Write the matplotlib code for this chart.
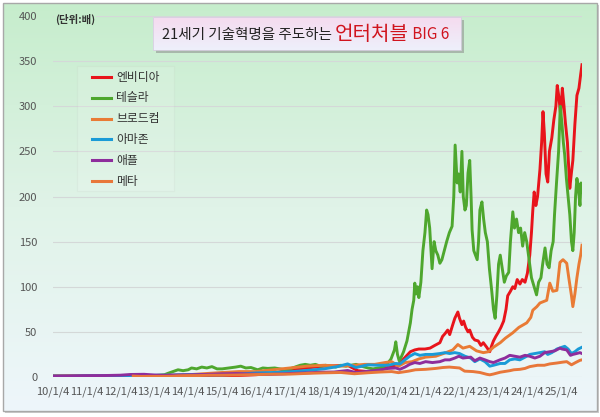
import matplotlib.pyplot as plt
import numpy as np
from matplotlib.colors import LinearSegmentedColormap
from matplotlib.patches import Rectangle

plt.rcParams['font.family'] = ['Noto Sans CJK KR', 'DejaVu Sans']

# ---- data (ratio vs. start) ----
names = ["엔비디아", "테슬라", "브로드컴", "아마존", "애플", "메타"]
colors = ["#e8141b", "#4ea72e", "#e97b35", "#1a9bd7", "#8e2d9c", "#e8773a"]

nvda_t = [2010.0, 2011.0, 2011.3, 2012.0, 2013.0, 2014.0, 2015.0, 2015.5, 2016.0, 2016.5,
          2017.0, 2017.5, 2018.0, 2018.7, 2018.9, 2019.0, 2019.3, 2019.6, 2019.9, 2020.2,
          2020.4, 2020.55, 2020.68, 2020.8, 2020.98, 2021.13, 2021.27, 2021.42, 2021.5, 2021.57,
          2021.65, 2021.71, 2021.8, 2021.86, 2021.95, 2022.0, 2022.07, 2022.12, 2022.18, 2022.25,
          2022.3, 2022.38, 2022.45, 2022.55, 2022.63, 2022.7, 2022.8, 2022.89, 2022.95, 2023.0,
          2023.07, 2023.15, 2023.22, 2023.3, 2023.37, 2023.42, 2023.5, 2023.57, 2023.63, 2023.7,
          2023.78, 2023.85, 2023.93, 2024.0, 2024.07, 2024.12, 2024.16, 2024.2, 2024.25, 2024.3,
          2024.37, 2024.42, 2024.46, 2024.5, 2024.55, 2024.6, 2024.65, 2024.72, 2024.78, 2024.84,
          2024.88, 2024.93, 2024.98, 2025.03, 2025.08, 2025.12, 2025.18, 2025.25, 2025.3, 2025.34,
          2025.4, 2025.46, 2025.52, 2025.57, 2025.61]
nvda_v = [1.0, 1.2, 1.5, 1.0, 1.0, 1.3, 1.5, 1.7, 2.5, 4,
          8, 10, 12, 13, 9, 7, 6, 7, 11, 14,
          22, 28, 30, 31, 31, 32, 35, 38, 45, 48,
          52, 47, 58, 65, 72, 65, 58, 62, 55, 50,
          52, 44, 41, 40, 35, 38, 33, 28, 35, 40,
          45, 50, 55, 62, 75, 90, 95, 100, 98, 108,
          103, 108, 105, 115, 135, 160, 185, 205, 190, 200,
          230, 260, 294, 270, 225, 216, 250, 265, 285, 300,
          323, 310, 290, 320, 300, 282, 260, 209, 227, 240,
          280, 312, 320, 335, 346]

tsla_t = [2010.0, 2010.5, 2011.0, 2011.5, 2012.0, 2012.5, 2013.0, 2013.3, 2013.4, 2013.55,
          2013.7, 2013.85, 2014.0, 2014.1, 2014.25, 2014.4, 2014.55, 2014.7, 2014.85, 2015.0,
          2015.2, 2015.4, 2015.55, 2015.7, 2015.85, 2016.05, 2016.2, 2016.35, 2016.55, 2016.7,
          2016.85, 2017.0, 2017.15, 2017.3, 2017.45, 2017.6, 2017.75, 2017.9, 2018.05, 2018.2,
          2018.35, 2018.5, 2018.65, 2018.8, 2018.95, 2019.1, 2019.3, 2019.45, 2019.6, 2019.75,
          2019.9, 2019.98, 2020.08, 2020.12, 2020.17, 2020.22, 2020.28, 2020.35, 2020.45, 2020.55,
          2020.6, 2020.65, 2020.68, 2020.72, 2020.76, 2020.8, 2020.86, 2020.92, 2020.98, 2021.03,
          2021.07, 2021.12, 2021.19, 2021.25, 2021.3, 2021.36, 2021.42, 2021.48, 2021.55, 2021.62,
          2021.7, 2021.78, 2021.83, 2021.87, 2021.9, 2021.93, 2021.97, 2022.02, 2022.07, 2022.11,
          2022.16, 2022.2, 2022.25, 2022.3, 2022.34, 2022.37, 2022.42, 2022.47, 2022.52, 2022.56,
          2022.6, 2022.66, 2022.71, 2022.76, 2022.82, 2022.88, 2022.95, 2023.0, 2023.05, 2023.1,
          2023.15, 2023.2, 2023.26, 2023.32, 2023.38, 2023.45, 2023.5, 2023.57, 2023.62, 2023.68,
          2023.74, 2023.8, 2023.86, 2023.92, 2023.98, 2024.05, 2024.12, 2024.2, 2024.27, 2024.33,
          2024.4, 2024.45, 2024.52, 2024.58, 2024.64, 2024.7, 2024.76, 2024.8, 2024.86, 2024.92,
          2024.97, 2025.02, 2025.06, 2025.1, 2025.15, 2025.2, 2025.25, 2025.3, 2025.34, 2025.38,
          2025.42, 2025.46, 2025.5, 2025.55, 2025.58, 2025.61]
tsla_v = [1.0, 1.0, 1.2, 1.3, 1.3, 1.5, 1.5, 2.5, 4, 6,
          8, 7, 8, 10, 9, 11, 10, 11.5, 9, 9,
          10, 11, 12, 10, 10.5, 8, 10, 9.5, 10, 9,
          8, 9, 11, 13, 14, 13, 14, 12, 13, 12,
          11, 13, 12, 13, 14, 12, 10, 9, 10, 11,
          16, 20, 30, 39, 25, 18, 22, 28, 40, 60,
          75, 85, 104, 92, 100, 88, 105, 140, 160, 185,
          180, 165, 120, 150, 140, 135, 126, 130, 140, 150,
          160, 167, 200, 257, 235, 215, 225, 205, 250, 200,
          185, 190, 226, 240, 200, 163, 140, 135, 130, 150,
          185, 194, 175, 160, 150, 120, 95, 75, 65, 90,
          125, 135, 120, 105, 112, 116, 150, 183, 165, 175,
          160, 165, 145, 160, 150, 130, 110, 100, 91, 105,
          110, 125, 143, 125, 121, 140, 150, 180, 216, 250,
          300, 280, 260, 246, 220, 200, 180, 150, 140, 160,
          200, 220, 210, 190, 215, 205]

avgo_t = [2010.0, 2011.0, 2012.0, 2013.0, 2014.0, 2015.0, 2015.5, 2016.0, 2016.5, 2017.0,
          2017.5, 2018.0, 2018.5, 2018.9, 2019.2, 2019.5, 2019.8, 2020.0, 2020.2, 2020.4,
          2020.6, 2020.8, 2021.0, 2021.3, 2021.6, 2021.8, 2021.95, 2022.1, 2022.3, 2022.5,
          2022.7, 2022.85, 2023.0, 2023.2, 2023.35, 2023.57, 2023.75, 2023.98, 2024.1, 2024.16,
          2024.28, 2024.37, 2024.57, 2024.66, 2024.75, 2024.87, 2024.96, 2025.05, 2025.16, 2025.22,
          2025.3, 2025.34, 2025.4, 2025.46, 2025.52, 2025.57, 2025.61]
avgo_v = [1.0, 1.2, 1.4, 1.5, 2.5, 5, 6, 6, 8, 10,
          12, 13, 12, 13, 14, 14, 16, 17, 12, 16,
          17, 20, 22, 23, 27, 30, 36, 32, 34, 29,
          27, 28, 33, 38, 43, 49, 55, 60, 66, 74,
          78, 82, 85, 104, 95, 96, 127, 130, 126, 110,
          90, 78, 92, 110, 125, 135, 146]

amzn_t = [2010.0, 2010.5, 2011.0, 2011.5, 2012.0, 2012.5, 2013.0, 2013.5, 2014.0, 2014.5,
          2015.0, 2015.5, 2016.0, 2016.5, 2017.0, 2017.5, 2018.0, 2018.4, 2018.7, 2018.95,
          2019.3, 2019.6, 2019.9, 2020.12, 2020.24, 2020.39, 2020.53, 2020.68, 2020.83, 2021.0,
          2021.2, 2021.42, 2021.57, 2021.71, 2021.86, 2022.0, 2022.16, 2022.33, 2022.45, 2022.6,
          2022.75, 2022.89, 2023.0, 2023.2, 2023.34, 2023.48, 2023.63, 2023.78, 2023.93, 2024.07,
          2024.22, 2024.37, 2024.51, 2024.6, 2024.72, 2024.87, 2025.02, 2025.1, 2025.2, 2025.3,
          2025.4, 2025.5, 2025.61]
amzn_v = [1.0, 0.9, 1.3, 1.5, 1.3, 1.7, 1.9, 2.1, 2.7, 2.3,
          2.2, 3.2, 4.5, 5, 5.8, 7.3, 9, 11.5, 14.5, 10.5,
          13.5, 13, 13, 15, 14.5, 19, 23, 26, 24, 25,
          25, 26, 27, 26, 27, 26, 23, 21, 17, 20,
          17, 12, 13, 15, 15, 19, 20, 19, 22, 25,
          26, 27, 28, 25, 27, 31, 33, 34, 31, 26,
          28, 31, 33]

aapl_t = [2010.0, 2010.5, 2011.0, 2011.5, 2012.0, 2012.3, 2012.7, 2013.0, 2013.3, 2013.7,
          2014.0, 2014.5, 2015.0, 2015.4, 2015.7, 2016.0, 2016.4, 2016.8, 2017.0, 2017.5,
          2017.9, 2018.3, 2018.7, 2018.95, 2019.3, 2019.6, 2019.9, 2020.12, 2020.24, 2020.39,
          2020.53, 2020.68, 2020.83, 2021.0, 2021.2, 2021.42, 2021.57, 2021.71, 2021.86, 2021.98,
          2022.1, 2022.33, 2022.45, 2022.6, 2022.75, 2022.89, 2023.0, 2023.19, 2023.34, 2023.48,
          2023.63, 2023.78, 2023.93, 2024.07, 2024.22, 2024.37, 2024.51, 2024.66, 2024.81, 2024.96,
          2025.02, 2025.16, 2025.27, 2025.34, 2025.45, 2025.55, 2025.61]
aapl_v = [1.0, 1.2, 1.5, 1.6, 2.0, 2.8, 3.0, 2.2, 1.9, 2.2,
          2.4, 2.8, 3.5, 3.8, 3.4, 3.2, 2.9, 3.4, 3.9, 4.6,
          5.3, 5.5, 7.2, 4.9, 6.3, 7.5, 9.5, 10, 8.5, 11,
          14, 16, 15, 17, 16, 17, 19, 19, 21, 23,
          21, 22, 18, 21, 19, 17, 16, 19, 21, 24,
          23, 22, 24, 23, 21, 23, 27, 28, 29, 32,
          31, 30, 24, 25, 26, 27, 26]

meta_t = [2012.38, 2012.6, 2012.9, 2013.2, 2013.5, 2013.7, 2014.0, 2014.3, 2014.6, 2015.0,
          2015.5, 2016.0, 2016.5, 2017.0, 2017.5, 2018.0, 2018.5, 2018.9, 2019.3, 2019.66,
          2020.0, 2020.2, 2020.5, 2020.7, 2021.0, 2021.3, 2021.5, 2021.7, 2021.85, 2022.0,
          2022.15, 2022.4, 2022.6, 2022.8, 2022.89, 2023.0, 2023.2, 2023.48, 2023.6, 2023.78,
          2023.93, 2024.07, 2024.3, 2024.5, 2024.66, 2024.87, 2025.05, 2025.16, 2025.3, 2025.42,
          2025.55, 2025.61]
meta_v = [1.0, 0.6, 0.7, 0.7, 0.8, 1.3, 1.6, 1.6, 2.0, 2.0,
          2.3, 2.7, 3.1, 3.2, 4.0, 4.6, 5.0, 3.6, 4.7, 5.5,
          6, 4.8, 6.5, 8, 8.5, 9.5, 10.5, 11, 10.5, 10,
          6.5, 6, 5, 3, 2.4, 3.3, 5.3, 7, 8, 8.5,
          9.5, 11.5, 13, 13, 14.5, 15.5, 16.5, 17, 13.5, 16,
          18.5, 19]

series_t = [nvda_t, tsla_t, avgo_t, amzn_t, aapl_t, meta_t]
series_v = [nvda_v, tsla_v, avgo_v, amzn_v, aapl_v, meta_v]

year_ticks = list(range(2010, 2026))
year_labels = [f"{y % 100}/1/4" for y in year_ticks]

# ---- figure ----
W, H = 600, 417
fig = plt.figure(figsize=(W / 100, H / 100), dpi=100)
fig.patch.set_facecolor("white")


def pixel_axes(z):
    a = fig.add_axes([0, 0, 1, 1], zorder=z)
    a.patch.set_alpha(0)
    a.axis("off")
    return a


bg = pixel_axes(0)
# outer frame with shadow and green-to-blue gradient
bg.add_patch(Rectangle((5, 5), 594, 408, facecolor="#9a9a9a", alpha=0.5, edgecolor="none"))
grad = LinearSegmentedColormap.from_list("bgrad", ["#c6edcc", "#e0f3e8", "#eef6fb"])
bg.imshow(np.linspace(0, 1, 256).reshape(-1, 1), cmap=grad, aspect="auto",
          extent=[3, 597, 411, 3], zorder=1)
bg.add_patch(Rectangle((3, 3), 594, 408, facecolor="none", edgecolor="#a8a8a8", lw=1, zorder=2))
bg.set_xlim(0, W)
bg.set_ylim(H, 0)

# main chart
ax = fig.add_axes([52.5 / W, (H - 377) / H, 529.5 / W, 361 / H], zorder=1)
ax.patch.set_alpha(0)
for t, v, col in zip(series_t, series_v, colors):
    ax.plot(t, v, color=col, lw=2.1, solid_joinstyle="round")

ax.set_xlim(2010.0, 2025.61)
ax.set_ylim(0, 400)
ax.set_yticks(range(0, 401, 50))
ax.set_xticks(year_ticks)
ax.set_xticklabels(year_labels)
ax.tick_params(length=0, labelsize=8, colors="#555555")
ax.tick_params(axis="y", pad=11)
ax.tick_params(axis="x", pad=7)
ax.grid(axis="y", color="#d4d8d8", lw=0.8)
ax.set_axisbelow(True)
for s in ax.spines.values():
    s.set_visible(False)

# overlay: title box, unit label, legend
ov = pixel_axes(3)
ov.add_patch(Rectangle((156, 20), 308, 33, facecolor="#8c8c8c", alpha=0.55, edgecolor="none", zorder=3))
tgrad = LinearSegmentedColormap.from_list("tgrad", ["#f5dbef", "#eef0fb"])
ov.imshow(np.linspace(0, 1, 64).reshape(-1, 1), cmap=tgrad, aspect="auto",
          extent=[153, 461, 50, 17], zorder=4)
ov.add_patch(Rectangle((153, 17), 308, 33, facecolor="none", edgecolor="#d6cfe0", lw=0.6, zorder=5))
ov.set_xlim(0, W)
ov.set_ylim(H, 0)

renderer = fig.canvas.get_renderer()
parts = [("21세기 기술혁명을 주도하는 ", 10.5, "#222222"),
         ("언터처블", 14.5, "#d0141e"),
         (" BIG 6", 11, "#d0141e")]
x = 162
for txt, size, col in parts:
    t = ov.text(x, 34.5, txt, fontsize=size, color=col, va="center", ha="left", zorder=6)
    x += t.get_window_extent(renderer=renderer).width

ov.text(55, 19, "(단위:배)", fontsize=7.5, fontweight="bold", color="#333333",
        va="center", ha="left", zorder=6,
        bbox=dict(facecolor="#c7edcd", edgecolor="none", pad=1.0))

ov.add_patch(Rectangle((77, 66), 97, 125, facecolor="white", alpha=0.12,
                       edgecolor="#b5bdb5", lw=0.8, zorder=6))
for i, (name, col) in enumerate(zip(names, colors)):
    yy = 77 + i * 20.8
    ov.plot([92, 111], [yy, yy], color=col, lw=2.2, zorder=7)
    ov.text(116, yy, name, fontsize=8.5, color="#333333", va="center", ha="left", zorder=7)

fig.savefig("out.png", dpi=100)
